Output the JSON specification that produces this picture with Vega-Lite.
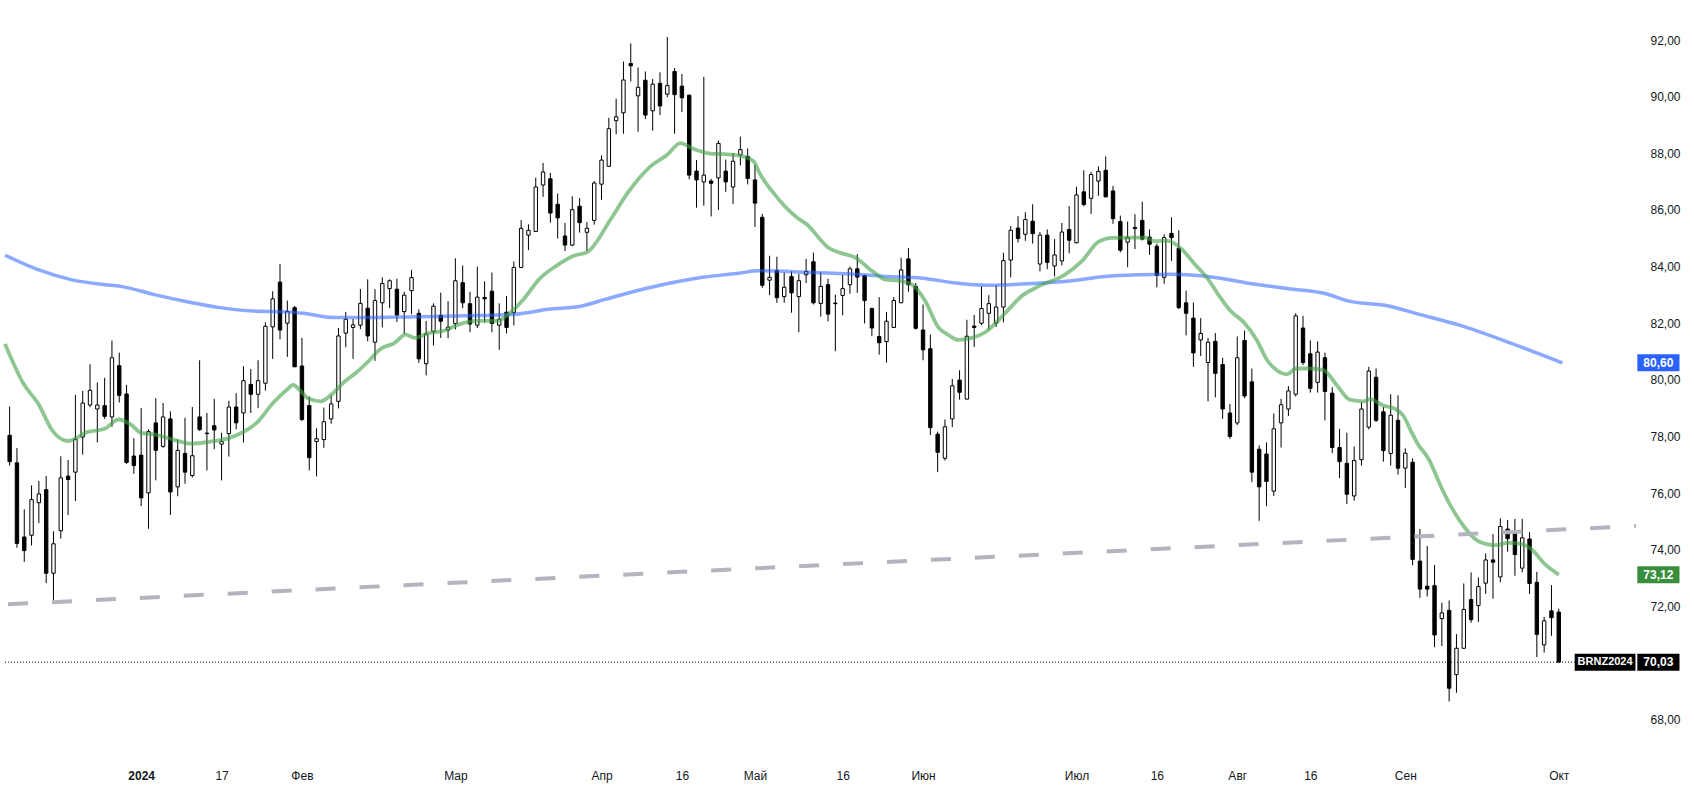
{
  "$schema": "https://vega.github.io/schema/vega-lite/v6.json",
  "width": 1641,
  "height": 764,
  "autosize": {"type": "none"},
  "padding": {"left": 0, "top": 0, "right": 53, "bottom": 28},
  "background": "#ffffff",
  "config": {"view": {"stroke": null}, "font": "Liberation Sans",
    "axis": {"grid": false, "domain": false, "ticks": false, "labelFontSize": 12, "labelColor": "#131722", "labelFont": "Liberation Sans"}},
  "datasets": {
    "candles": [
      {"i":0,"o":78.04,"h":79.06,"l":76.97,"c":77.11},
      {"i":1,"o":77.07,"h":77.59,"l":74.07,"c":74.22},
      {"i":2,"o":74.45,"h":75.43,"l":73.57,"c":73.97},
      {"i":3,"o":74.51,"h":76.27,"l":74.15,"c":75.77},
      {"i":4,"o":75.66,"h":76.43,"l":74.94,"c":75.97},
      {"i":5,"o":76.12,"h":76.60,"l":72.82,"c":73.17},
      {"i":6,"o":73.17,"h":74.65,"l":72.23,"c":74.21},
      {"i":7,"o":74.67,"h":77.30,"l":74.39,"c":76.54},
      {"i":8,"o":76.60,"h":77.17,"l":75.23,"c":76.48},
      {"i":9,"o":76.74,"h":79.47,"l":75.72,"c":77.90},
      {"i":10,"o":77.98,"h":79.61,"l":77.36,"c":79.18},
      {"i":11,"o":79.11,"h":80.55,"l":79.03,"c":79.63},
      {"i":12,"o":78.97,"h":79.91,"l":77.79,"c":79.11},
      {"i":13,"o":79.09,"h":80.07,"l":78.62,"c":78.71},
      {"i":14,"o":78.69,"h":81.39,"l":78.34,"c":80.78},
      {"i":15,"o":80.50,"h":80.96,"l":79.20,"c":79.45},
      {"i":16,"o":79.50,"h":79.82,"l":77.03,"c":77.08},
      {"i":17,"o":77.31,"h":77.94,"l":76.68,"c":76.97},
      {"i":18,"o":77.34,"h":79.00,"l":75.54,"c":75.83},
      {"i":19,"o":76.01,"h":78.25,"l":74.74,"c":78.17},
      {"i":20,"o":78.48,"h":79.35,"l":76.45,"c":77.51},
      {"i":21,"o":77.65,"h":79.18,"l":77.60,"c":78.69},
      {"i":22,"o":78.62,"h":78.89,"l":75.23,"c":76.04},
      {"i":23,"o":76.22,"h":77.90,"l":75.89,"c":77.51},
      {"i":24,"o":77.40,"h":78.66,"l":76.33,"c":76.74},
      {"i":25,"o":76.62,"h":79.04,"l":76.55,"c":77.32},
      {"i":26,"o":78.69,"h":80.69,"l":78.20,"c":78.24},
      {"i":27,"o":78.10,"h":78.83,"l":76.80,"c":78.12},
      {"i":28,"o":78.38,"h":79.33,"l":77.55,"c":78.23},
      {"i":29,"o":77.73,"h":78.13,"l":76.45,"c":77.82},
      {"i":30,"o":78.10,"h":79.26,"l":77.29,"c":79.04},
      {"i":31,"o":79.04,"h":79.53,"l":78.25,"c":78.48},
      {"i":32,"o":78.83,"h":80.48,"l":77.79,"c":79.97},
      {"i":33,"o":79.84,"h":80.38,"l":78.83,"c":79.49},
      {"i":34,"o":79.49,"h":80.69,"l":79.00,"c":79.97},
      {"i":35,"o":79.88,"h":82.03,"l":79.62,"c":81.89},
      {"i":36,"o":81.87,"h":83.13,"l":80.74,"c":82.86},
      {"i":37,"o":83.45,"h":84.09,"l":81.43,"c":81.76},
      {"i":38,"o":82.00,"h":82.80,"l":80.81,"c":82.41},
      {"i":39,"o":82.55,"h":82.61,"l":80.45,"c":80.46},
      {"i":40,"o":80.49,"h":81.48,"l":78.54,"c":78.60},
      {"i":41,"o":79.09,"h":79.41,"l":76.80,"c":77.25},
      {"i":42,"o":77.82,"h":78.29,"l":76.59,"c":77.92},
      {"i":43,"o":77.89,"h":79.02,"l":77.60,"c":78.52},
      {"i":44,"o":78.62,"h":79.45,"l":78.45,"c":79.15},
      {"i":45,"o":79.24,"h":81.83,"l":78.99,"c":81.55},
      {"i":46,"o":81.65,"h":82.40,"l":81.15,"c":82.14},
      {"i":47,"o":81.85,"h":82.15,"l":80.74,"c":81.94},
      {"i":48,"o":81.93,"h":83.21,"l":81.79,"c":82.70},
      {"i":49,"o":82.53,"h":83.55,"l":81.36,"c":81.55},
      {"i":50,"o":81.33,"h":83.20,"l":80.67,"c":82.80},
      {"i":51,"o":82.72,"h":83.62,"l":81.85,"c":83.40},
      {"i":52,"o":83.22,"h":83.55,"l":82.53,"c":83.50},
      {"i":53,"o":83.20,"h":83.57,"l":82.04,"c":82.29},
      {"i":54,"o":82.41,"h":83.11,"l":81.62,"c":82.99},
      {"i":55,"o":83.15,"h":83.88,"l":82.32,"c":83.61},
      {"i":56,"o":82.35,"h":82.49,"l":80.60,"c":80.74},
      {"i":57,"o":80.57,"h":82.08,"l":80.16,"c":81.62},
      {"i":58,"o":81.71,"h":82.70,"l":81.21,"c":82.60},
      {"i":59,"o":82.28,"h":83.08,"l":81.48,"c":82.07},
      {"i":60,"o":81.76,"h":82.78,"l":81.47,"c":81.86},
      {"i":61,"o":81.99,"h":84.29,"l":81.78,"c":83.50},
      {"i":62,"o":83.43,"h":84.04,"l":82.53,"c":82.72},
      {"i":63,"o":82.69,"h":83.11,"l":81.68,"c":81.97},
      {"i":64,"o":81.93,"h":84.00,"l":81.83,"c":82.92},
      {"i":65,"o":82.91,"h":83.48,"l":82.03,"c":82.86},
      {"i":66,"o":83.13,"h":83.79,"l":81.68,"c":81.99},
      {"i":67,"o":81.93,"h":82.70,"l":81.06,"c":82.14},
      {"i":68,"o":82.39,"h":82.96,"l":81.64,"c":81.85},
      {"i":69,"o":82.37,"h":84.18,"l":81.92,"c":83.97},
      {"i":70,"o":83.97,"h":85.64,"l":83.94,"c":85.35},
      {"i":71,"o":85.11,"h":85.49,"l":84.58,"c":85.28},
      {"i":72,"o":85.24,"h":87.14,"l":85.22,"c":86.81},
      {"i":73,"o":86.88,"h":87.66,"l":86.46,"c":87.34},
      {"i":74,"o":87.10,"h":87.31,"l":85.55,"c":85.89},
      {"i":75,"o":86.20,"h":86.58,"l":84.99,"c":85.72},
      {"i":76,"o":85.08,"h":85.54,"l":84.55,"c":84.76},
      {"i":77,"o":84.76,"h":86.48,"l":84.72,"c":86.01},
      {"i":78,"o":86.13,"h":86.42,"l":85.20,"c":85.55},
      {"i":79,"o":85.21,"h":85.57,"l":84.55,"c":85.35},
      {"i":80,"o":85.63,"h":87.02,"l":85.48,"c":86.95},
      {"i":81,"o":86.91,"h":87.93,"l":86.36,"c":87.76},
      {"i":82,"o":87.54,"h":89.25,"l":87.52,"c":88.87},
      {"i":83,"o":89.15,"h":89.93,"l":88.67,"c":89.29},
      {"i":84,"o":89.43,"h":91.24,"l":88.69,"c":90.59},
      {"i":85,"o":91.17,"h":91.88,"l":90.54,"c":91.09},
      {"i":86,"o":90.03,"h":91.03,"l":88.76,"c":90.33},
      {"i":87,"o":90.58,"h":90.89,"l":89.21,"c":89.35},
      {"i":88,"o":89.50,"h":90.62,"l":88.80,"c":90.44},
      {"i":89,"o":90.47,"h":90.86,"l":89.35,"c":89.67},
      {"i":90,"o":90.09,"h":92.11,"l":89.98,"c":90.39},
      {"i":91,"o":90.89,"h":91.01,"l":88.69,"c":90.07},
      {"i":92,"o":90.37,"h":90.80,"l":89.46,"c":89.96},
      {"i":93,"o":90.05,"h":90.08,"l":87.08,"c":87.23},
      {"i":94,"o":87.37,"h":87.76,"l":86.08,"c":87.06},
      {"i":95,"o":86.99,"h":90.70,"l":86.15,"c":87.23},
      {"i":96,"o":87.02,"h":87.10,"l":85.77,"c":86.94},
      {"i":97,"o":87.13,"h":88.45,"l":86.00,"c":88.35},
      {"i":98,"o":87.37,"h":87.78,"l":86.64,"c":86.99},
      {"i":99,"o":86.81,"h":88.01,"l":86.21,"c":87.72},
      {"i":100,"o":87.94,"h":88.59,"l":87.57,"c":88.13},
      {"i":101,"o":87.89,"h":88.17,"l":86.90,"c":87.11},
      {"i":102,"o":87.06,"h":87.60,"l":85.40,"c":86.24},
      {"i":103,"o":85.74,"h":85.86,"l":83.25,"c":83.34},
      {"i":104,"o":83.52,"h":84.38,"l":82.99,"c":83.62},
      {"i":105,"o":83.86,"h":84.35,"l":82.72,"c":82.90},
      {"i":106,"o":82.94,"h":83.79,"l":82.72,"c":83.27},
      {"i":107,"o":83.65,"h":83.83,"l":82.37,"c":83.07},
      {"i":108,"o":82.94,"h":83.74,"l":81.68,"c":83.50},
      {"i":109,"o":83.71,"h":84.27,"l":83.42,"c":83.83},
      {"i":110,"o":84.17,"h":84.49,"l":82.66,"c":82.72},
      {"i":111,"o":82.70,"h":83.80,"l":82.23,"c":83.30},
      {"i":112,"o":83.36,"h":83.57,"l":82.06,"c":82.32},
      {"i":113,"o":82.71,"h":83.01,"l":81.01,"c":82.69},
      {"i":114,"o":82.98,"h":83.71,"l":82.28,"c":83.22},
      {"i":115,"o":83.36,"h":84.00,"l":83.04,"c":83.92},
      {"i":116,"o":83.92,"h":84.44,"l":83.07,"c":83.63},
      {"i":117,"o":83.68,"h":83.71,"l":81.99,"c":82.80},
      {"i":118,"o":82.52,"h":82.55,"l":81.54,"c":81.83},
      {"i":119,"o":81.53,"h":82.92,"l":80.89,"c":81.31},
      {"i":120,"o":81.35,"h":82.40,"l":80.61,"c":82.07},
      {"i":121,"o":81.85,"h":82.92,"l":81.83,"c":82.80},
      {"i":122,"o":82.72,"h":84.31,"l":82.72,"c":83.88},
      {"i":123,"o":84.27,"h":84.66,"l":83.11,"c":83.36},
      {"i":124,"o":83.30,"h":83.42,"l":81.77,"c":81.82},
      {"i":125,"o":81.76,"h":82.66,"l":80.69,"c":81.06},
      {"i":126,"o":81.10,"h":81.60,"l":78.05,"c":78.31},
      {"i":127,"o":78.08,"h":78.17,"l":76.74,"c":77.44},
      {"i":128,"o":77.23,"h":78.60,"l":77.15,"c":78.34},
      {"i":129,"o":78.62,"h":80.03,"l":78.33,"c":79.79},
      {"i":130,"o":79.99,"h":80.34,"l":79.30,"c":79.56},
      {"i":131,"o":79.32,"h":82.12,"l":79.30,"c":81.54},
      {"i":132,"o":81.90,"h":82.29,"l":81.16,"c":81.85},
      {"i":133,"o":82.00,"h":83.30,"l":81.93,"c":82.52},
      {"i":134,"o":82.35,"h":82.99,"l":81.77,"c":82.69},
      {"i":135,"o":82.00,"h":83.34,"l":81.87,"c":82.57},
      {"i":136,"o":82.57,"h":84.49,"l":82.03,"c":84.21},
      {"i":137,"o":84.23,"h":85.43,"l":83.62,"c":85.28},
      {"i":138,"o":85.36,"h":85.78,"l":84.85,"c":84.99},
      {"i":139,"o":85.14,"h":85.92,"l":84.91,"c":85.66},
      {"i":140,"o":85.60,"h":86.20,"l":84.81,"c":85.16},
      {"i":141,"o":84.09,"h":85.22,"l":83.83,"c":85.11},
      {"i":142,"o":85.11,"h":85.31,"l":83.91,"c":84.15},
      {"i":143,"o":84.02,"h":84.97,"l":83.65,"c":84.41},
      {"i":144,"o":84.20,"h":85.54,"l":84.04,"c":85.22},
      {"i":145,"o":85.31,"h":86.13,"l":84.47,"c":84.93},
      {"i":146,"o":84.84,"h":86.82,"l":84.82,"c":86.53},
      {"i":147,"o":86.64,"h":87.40,"l":86.13,"c":86.19},
      {"i":148,"o":86.41,"h":87.34,"l":85.86,"c":87.25},
      {"i":149,"o":87.02,"h":87.54,"l":86.50,"c":87.36},
      {"i":150,"o":87.40,"h":87.89,"l":86.45,"c":86.46},
      {"i":151,"o":86.67,"h":86.85,"l":85.51,"c":85.69},
      {"i":152,"o":85.59,"h":85.80,"l":84.50,"c":84.58},
      {"i":153,"o":84.86,"h":85.59,"l":83.98,"c":85.02},
      {"i":154,"o":85.38,"h":85.85,"l":84.62,"c":85.34},
      {"i":155,"o":85.63,"h":86.29,"l":84.92,"c":84.97},
      {"i":156,"o":85.04,"h":85.31,"l":84.41,"c":84.79},
      {"i":157,"o":84.72,"h":84.81,"l":83.27,"c":83.69},
      {"i":158,"o":83.62,"h":85.14,"l":83.39,"c":85.02},
      {"i":159,"o":85.17,"h":85.74,"l":84.20,"c":85.02},
      {"i":160,"o":84.64,"h":85.28,"l":82.50,"c":82.55},
      {"i":161,"o":82.72,"h":83.15,"l":81.57,"c":82.35},
      {"i":162,"o":82.18,"h":82.73,"l":80.46,"c":80.95},
      {"i":163,"o":81.41,"h":82.18,"l":80.84,"c":81.64},
      {"i":164,"o":80.61,"h":81.48,"l":79.24,"c":81.33},
      {"i":165,"o":81.36,"h":81.65,"l":79.38,"c":80.23},
      {"i":166,"o":80.54,"h":80.78,"l":78.62,"c":78.97},
      {"i":167,"o":78.83,"h":79.15,"l":77.92,"c":78.00},
      {"i":168,"o":78.48,"h":81.53,"l":78.40,"c":80.78},
      {"i":169,"o":81.39,"h":81.74,"l":79.35,"c":79.43},
      {"i":170,"o":79.93,"h":80.40,"l":76.39,"c":76.74},
      {"i":171,"o":77.55,"h":77.69,"l":75.02,"c":76.22},
      {"i":172,"o":77.38,"h":77.79,"l":75.54,"c":76.41},
      {"i":173,"o":76.07,"h":78.81,"l":75.90,"c":78.27},
      {"i":174,"o":78.48,"h":79.33,"l":77.61,"c":79.12},
      {"i":175,"o":78.97,"h":79.78,"l":78.72,"c":79.61},
      {"i":176,"o":79.49,"h":82.35,"l":79.41,"c":82.26},
      {"i":177,"o":81.83,"h":82.26,"l":80.52,"c":80.61},
      {"i":178,"o":80.92,"h":81.39,"l":79.55,"c":79.70},
      {"i":179,"o":79.91,"h":81.36,"l":79.55,"c":80.98},
      {"i":180,"o":80.78,"h":80.96,"l":78.57,"c":79.59},
      {"i":181,"o":79.53,"h":79.74,"l":77.41,"c":77.61},
      {"i":182,"o":77.61,"h":78.27,"l":76.53,"c":77.11},
      {"i":183,"o":77.05,"h":78.13,"l":75.61,"c":75.96},
      {"i":184,"o":75.90,"h":77.65,"l":75.73,"c":77.15},
      {"i":185,"o":77.18,"h":79.21,"l":76.97,"c":78.97},
      {"i":186,"o":78.33,"h":80.46,"l":78.25,"c":80.31},
      {"i":187,"o":80.09,"h":80.40,"l":78.51,"c":78.57},
      {"i":188,"o":78.87,"h":79.04,"l":77.11,"c":77.50},
      {"i":189,"o":77.40,"h":79.49,"l":76.97,"c":78.75},
      {"i":190,"o":78.57,"h":79.45,"l":76.65,"c":76.88},
      {"i":191,"o":76.88,"h":77.58,"l":76.18,"c":77.41},
      {"i":192,"o":77.09,"h":77.23,"l":73.45,"c":73.66},
      {"i":193,"o":73.60,"h":74.73,"l":72.30,"c":72.61},
      {"i":194,"o":72.71,"h":74.13,"l":72.35,"c":72.61},
      {"i":195,"o":72.73,"h":73.46,"l":70.56,"c":70.99},
      {"i":196,"o":71.57,"h":72.13,"l":70.60,"c":71.77},
      {"i":197,"o":71.86,"h":72.21,"l":68.64,"c":69.11},
      {"i":198,"o":69.59,"h":71.02,"l":68.95,"c":70.52},
      {"i":199,"o":70.52,"h":72.81,"l":70.50,"c":71.89},
      {"i":200,"o":72.24,"h":73.20,"l":71.42,"c":71.53},
      {"i":201,"o":72.03,"h":73.02,"l":71.45,"c":72.70},
      {"i":202,"o":72.82,"h":73.87,"l":72.44,"c":73.64},
      {"i":203,"o":73.64,"h":74.55,"l":72.27,"c":73.56},
      {"i":204,"o":73.04,"h":75.11,"l":72.85,"c":74.82},
      {"i":205,"o":74.73,"h":75.05,"l":73.93,"c":74.39},
      {"i":206,"o":74.65,"h":75.09,"l":73.08,"c":73.83},
      {"i":207,"o":73.35,"h":75.09,"l":73.20,"c":74.42},
      {"i":208,"o":74.38,"h":74.62,"l":72.44,"c":72.81},
      {"i":209,"o":72.85,"h":73.22,"l":70.21,"c":71.01},
      {"i":210,"o":70.64,"h":71.63,"l":70.37,"c":71.49},
      {"i":211,"o":71.84,"h":72.75,"l":70.96,"c":71.60},
      {"i":212,"o":71.80,"h":71.92,"l":70.03,"c":70.03}
    ],
    "ma20": [
      {"i":-0.635,"v":81.27},{"i":1.86,"v":79.88},{"i":3.9,"v":79.16},{"i":5.9,"v":78.19},{"i":8,"v":77.84},
      {"i":10.7,"v":78.16},{"i":13,"v":78.27},{"i":14.9,"v":78.6},{"i":16.6,"v":78.42},{"i":18,"v":78.13},
      {"i":19.8,"v":78.07},{"i":22,"v":77.92},{"i":24.8,"v":77.75},{"i":27.5,"v":77.82},{"i":30.2,"v":77.96},
      {"i":32,"v":78.16},{"i":33.8,"v":78.48},{"i":36.1,"v":79.2},{"i":37.9,"v":79.64},{"i":38.8,"v":79.82},
      {"i":39.7,"v":79.64},{"i":40.8,"v":79.35},{"i":42.6,"v":79.24},{"i":44,"v":79.47},{"i":45.8,"v":79.93},
      {"i":47.4,"v":80.25},{"i":49,"v":80.63},{"i":50.8,"v":81.1},{"i":52.6,"v":81.29},{"i":54.2,"v":81.6},
      {"i":55.4,"v":81.48},{"i":57.2,"v":81.64},{"i":59.5,"v":81.74},{"i":61.3,"v":81.94},{"i":64,"v":82.08},
      {"i":66.7,"v":82.08},{"i":68.5,"v":82.37},{"i":70.3,"v":82.84},{"i":72.6,"v":83.59},{"i":74.9,"v":84.04},
      {"i":77.2,"v":84.38},{"i":79.1,"v":84.52},{"i":82.3,"v":85.69},{"i":84.6,"v":86.61},{"i":87.7,"v":87.54},
      {"i":90,"v":87.95},{"i":91.8,"v":88.36},{"i":93.6,"v":88.15},{"i":95.9,"v":87.99},{"i":97.7,"v":87.97},
      {"i":99.9,"v":87.92},{"i":101.8,"v":87.72},{"i":102.6,"v":87.31},{"i":104.5,"v":86.61},{"i":107.7,"v":85.74},
      {"i":109,"v":85.51},{"i":112.2,"v":84.64},{"i":113.5,"v":84.5},{"i":115.8,"v":84.31},{"i":118.1,"v":83.83},
      {"i":119.9,"v":83.54},{"i":121.7,"v":83.5},{"i":123.5,"v":83.36},{"i":125.3,"v":82.78},{"i":127.1,"v":81.85},
      {"i":128.5,"v":81.58},{"i":129.8,"v":81.41},{"i":131.7,"v":81.48},{"i":133.5,"v":81.68},{"i":136.3,"v":82.37},
      {"i":138.5,"v":82.96},{"i":140.8,"v":83.3},{"i":144.4,"v":83.71},{"i":146.7,"v":84.18},{"i":149,"v":84.87},
      {"i":150.8,"v":85.01},{"i":153.1,"v":85.02},{"i":155.4,"v":85.02},{"i":156.7,"v":84.9},{"i":158.5,"v":84.91},
      {"i":160.3,"v":84.64},{"i":162.1,"v":84.11},{"i":163.9,"v":83.59},{"i":165.7,"v":82.9},{"i":167.1,"v":82.43},
      {"i":168.9,"v":82.03},{"i":170.7,"v":81.39},{"i":172.1,"v":80.69},{"i":173.4,"v":80.34},{"i":174.8,"v":80.2},
      {"i":176.1,"v":80.4},{"i":178,"v":80.4},{"i":179.8,"v":80.34},{"i":181.6,"v":79.82},{"i":183.4,"v":79.3},
      {"i":185.3,"v":79.24},{"i":186.2,"v":79.32},{"i":188,"v":79.09},{"i":189.4,"v":79.0},{"i":190.7,"v":78.74},
      {"i":191.9,"v":78.13},{"i":192.6,"v":77.78},{"i":194.2,"v":77.2},{"i":196,"v":76.16},{"i":197.4,"v":75.46},
      {"i":199.2,"v":74.76},{"i":201,"v":74.3},{"i":203.3,"v":74.16},{"i":205.1,"v":74.24},{"i":206.9,"v":74.2},
      {"i":208.3,"v":74.01},{"i":210.1,"v":73.49},{"i":212,"v":73.12}
    ],
    "ma200": [
      {"i":-0.635,"v":84.4},{"i":3.9,"v":83.89},{"i":8.4,"v":83.54},{"i":13,"v":83.36},{"i":15.2,"v":83.3},
      {"i":19.8,"v":83.01},{"i":24.3,"v":82.76},{"i":28.8,"v":82.55},{"i":33.4,"v":82.43},{"i":37.9,"v":82.4},
      {"i":40.2,"v":82.35},{"i":44.3,"v":82.2},{"i":48.8,"v":82.2},{"i":55.6,"v":82.23},{"i":62.4,"v":82.26},
      {"i":69.2,"v":82.32},{"i":73.7,"v":82.49},{"i":78.3,"v":82.61},{"i":81.6,"v":82.85},{"i":87.5,"v":83.25},
      {"i":94.8,"v":83.62},{"i":100,"v":83.77},{"i":102.3,"v":83.85},{"i":109,"v":83.8},{"i":115.8,"v":83.73},
      {"i":120.4,"v":83.65},{"i":124.9,"v":83.59},{"i":129.4,"v":83.42},{"i":134,"v":83.34},{"i":138.5,"v":83.38},
      {"i":145.3,"v":83.5},{"i":149.9,"v":83.65},{"i":154.4,"v":83.71},{"i":159,"v":83.73},{"i":161.2,"v":83.71},
      {"i":165.7,"v":83.59},{"i":169.3,"v":83.42},{"i":175,"v":83.22},{"i":180,"v":83.05},{"i":183.3,"v":82.78},
      {"i":188.7,"v":82.61},{"i":192.8,"v":82.32},{"i":198.3,"v":81.94},{"i":205.7,"v":81.27},{"i":212.5,"v":80.6}
    ],
    "trend": [{"i":-0.635,"v":72.07},{"i":222.57,"v":74.84}],
    "tags": [
      {"name":"ma200","price":80.6,"text":"80,60"},
      {"name":"ma20","price":73.12,"text":"73,12"},
      {"name":"close","price":70.03,"text":"70,03"}
    ],
    "symbol": [{"price":70.03,"text":"BRNZ2024"}]
  },
  "layer": [
    {
      "data": {"name": "candles"},
      "mark": {"type": "rule", "color": "#000000", "strokeWidth": 1},
      "encoding": {
        "x": {"field": "i", "type": "quantitative", "scale": {"domain": [-0.635, 222.57], "nice": false, "zero": false},
          "axis": {"title": null, "values": [18,29,40,61,81,92,102,114,125,146,157,168,178,191,212],
            "labelExpr": "datum.value == 18 ? '2024' : datum.value == 29 ? '17' : datum.value == 40 ? 'Фев' : datum.value == 61 ? 'Мар' : datum.value == 81 ? 'Апр' : datum.value == 92 ? '16' : datum.value == 102 ? 'Май' : datum.value == 114 ? '16' : datum.value == 125 ? 'Июн' : datum.value == 146 ? 'Июл' : datum.value == 157 ? '16' : datum.value == 168 ? 'Авг' : datum.value == 178 ? '16' : datum.value == 191 ? 'Сен' : 'Окт'",
            "labelPadding": 6, "labelOverlap": false, "labelFlush": false,
            "labelFontWeight": {"condition": {"test": "datum.value == 18", "value": "bold"}, "value": "normal"}}},
        "y": {"field": "l", "type": "quantitative", "scale": {"domain": [66.61, 93.237], "nice": false, "zero": false},
          "axis": {"title": null, "orient": "right", "values": [68,72,74,76,78,80,82,84,86,88,90,92],
            "labelExpr": "replace(format(datum.value, '.2f'), '.', ',')",
            "labelPadding": 9, "labelOverlap": false, "labelFlush": false}},
        "y2": {"field": "h"}
      }
    },
    {
      "data": {"name": "candles"},
      "mark": {"type": "bar", "orient": "vertical", "size": 3.4, "stroke": "#000000", "strokeWidth": 1},
      "encoding": {
        "x": {"field": "i", "type": "quantitative"},
        "y": {"field": "o", "type": "quantitative"},
        "y2": {"field": "c"},
        "fill": {"condition": {"test": "datum.c >= datum.o", "value": "#ffffff"}, "value": "#000000"}
      }
    },
    {
      "data": {"name": "ma200"},
      "mark": {"type": "line", "color": "#2962ff", "opacity": 0.55, "strokeWidth": 3.5, "interpolate": "monotone"},
      "encoding": {
        "x": {"field": "i", "type": "quantitative"},
        "y": {"field": "v", "type": "quantitative"}
      }
    },
    {
      "data": {"name": "ma20"},
      "mark": {"type": "line", "color": "#43a047", "opacity": 0.6, "strokeWidth": 3.8, "interpolate": "monotone"},
      "encoding": {
        "x": {"field": "i", "type": "quantitative"},
        "y": {"field": "v", "type": "quantitative"}
      }
    },
    {
      "data": {"name": "trend"},
      "mark": {"type": "line", "color": "#b2b5be", "strokeWidth": 4, "strokeDash": [20, 24], "strokeDashOffset": -3, "clip": true},
      "encoding": {
        "x": {"field": "i", "type": "quantitative"},
        "y": {"field": "v", "type": "quantitative"}
      }
    },
    {
      "data": {"name": "symbol"},
      "mark": {"type": "rule", "color": "#000000", "strokeWidth": 1, "strokeDash": [1, 2]},
      "encoding": {
        "x": {"datum": -0.635, "type": "quantitative"},
        "x2": {"datum": 214.18},
        "y": {"field": "price", "type": "quantitative"}
      }
    },
    {
      "data": {"name": "symbol"},
      "mark": {"type": "bar", "orient": "horizontal", "size": 17, "color": "#000000"},
      "encoding": {
        "x": {"datum": 214.18, "type": "quantitative"},
        "x2": {"datum": 222.5},
        "y": {"field": "price", "type": "quantitative"}
      }
    },
    {
      "data": {"name": "symbol"},
      "mark": {"type": "text", "color": "#ffffff", "fontSize": 11, "fontWeight": "bold", "font": "Liberation Sans", "align": "center", "baseline": "middle"},
      "encoding": {
        "x": {"datum": 218.34, "type": "quantitative"},
        "y": {"field": "price", "type": "quantitative"},
        "text": {"field": "text"}
      }
    },
    {
      "data": {"name": "tags"},
      "mark": {"type": "bar", "orient": "horizontal", "size": 17},
      "encoding": {
        "x": {"datum": 222.75, "type": "quantitative"},
        "x2": {"datum": 228.52},
        "y": {"field": "price", "type": "quantitative"},
        "color": {"field": "name", "type": "nominal", "scale": {"domain": ["ma200", "ma20", "close"], "range": ["#2962ff", "#388e3c", "#000000"]}, "legend": null}
      }
    },
    {
      "data": {"name": "tags"},
      "mark": {"type": "text", "color": "#ffffff", "fontSize": 12, "fontWeight": "bold", "font": "Liberation Sans", "align": "center", "baseline": "middle"},
      "encoding": {
        "x": {"datum": 225.63, "type": "quantitative"},
        "y": {"field": "price", "type": "quantitative"},
        "text": {"field": "text"}
      }
    }
  ]
}
